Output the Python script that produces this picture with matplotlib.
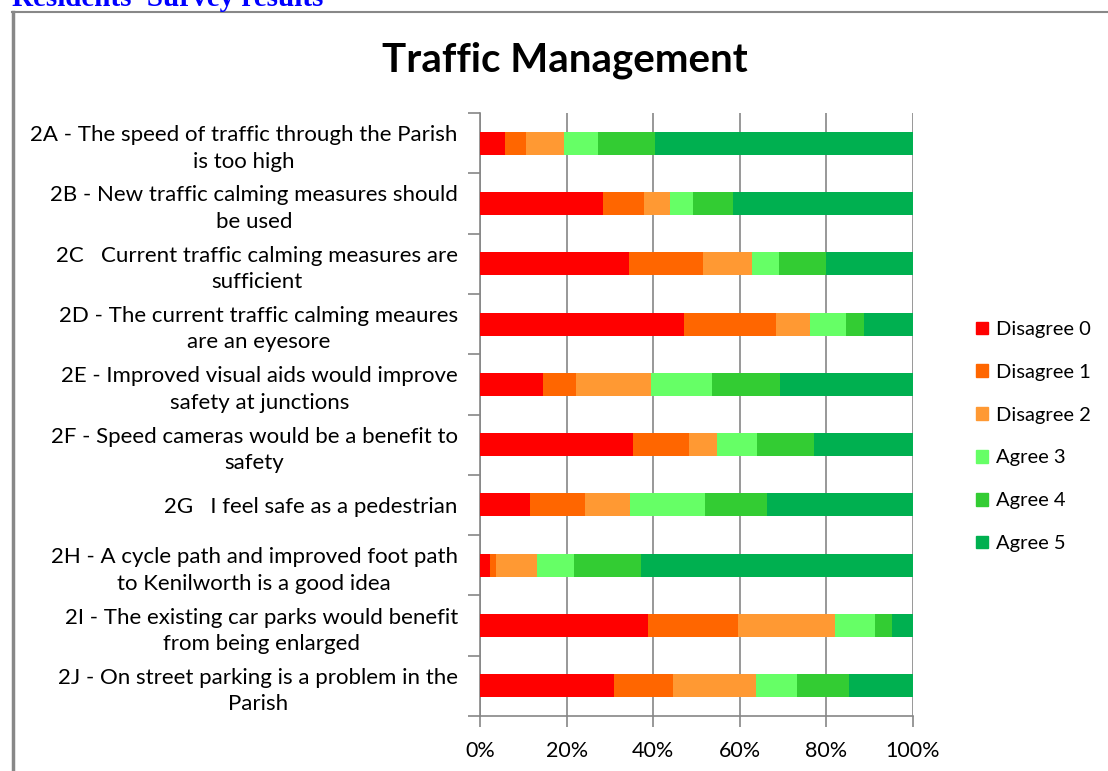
import numpy as np
import matplotlib.pyplot as plt
from matplotlib.patches import Rectangle
from matplotlib.lines import Line2D

questions = [
    "2A - The speed of traffic through the Parish\nis too high",
    "2B - New traffic calming measures should\nbe used",
    "2C   Current traffic calming measures are\nsufficient",
    "2D - The current traffic calming meaures\nare an eyesore",
    "2E - Improved visual aids would improve\nsafety at junctions",
    "2F - Speed cameras would be a benefit to\nsafety",
    "2G   I feel safe as a pedestrian",
    "2H - A cycle path and improved foot path\nto Kenilworth is a good idea",
    "2I - The existing car parks would benefit\nfrom being enlarged",
    "2J - On street parking is a problem in the\nParish",
]

series_names = ["Disagree 0", "Disagree 1", "Disagree 2", "Agree 3", "Agree 4", "Agree 5"]
colors = ["#FF0000", "#FF6600", "#FF9933", "#66FF66", "#33CC33", "#00B050"]

# percentages per question, one list per response level
disagree0 = [5.8, 28.4, 34.4, 47.1, 14.6, 35.4, 11.6, 2.2, 38.8, 31.0]
disagree1 = [4.8, 9.5, 17.1, 21.2, 7.6, 12.9, 12.7, 1.6, 20.8, 13.6]
disagree2 = [8.8, 5.9, 11.3, 7.9, 17.3, 6.4, 10.4, 9.4, 22.3, 19.1]
agree3 = [7.8, 5.4, 6.2, 8.3, 14.1, 9.2, 17.3, 8.6, 9.3, 9.5]
agree4 = [13.1, 9.2, 10.9, 4.1, 15.7, 13.2, 14.3, 15.4, 3.9, 12.0]
agree5 = [59.6, 41.6, 20.1, 11.4, 30.7, 22.9, 33.7, 62.8, 4.9, 14.8]

data = np.array([disagree0, disagree1, disagree2, agree3, agree4, agree5])
data = data / data.sum(axis=0) * 100

plt.rcParams['font.family'] = ['Lato', 'DejaVu Sans']

W, H = 1108, 771
fig = plt.figure(figsize=(W / 100, H / 100), dpi=100)

# outer chart border (only left and top visible in the crop)
fig.add_artist(Line2D([12.5 / W, 12.5 / W], [0, 1 - 12 / H], color="#888888", lw=2.5,
                      transform=fig.transFigure))
fig.add_artist(Line2D([12 / W, 1], [1 - 12 / H, 1 - 12 / H], color="#888888", lw=1.5,
                      transform=fig.transFigure))

# page heading, clipped at the top edge as in the source screenshot
fig.text(12 / W, 1 - 6 / H, "Residents' Survey results", family="Liberation Serif",
         fontweight="bold", fontsize=21, color="#0000FF", va="baseline", ha="left")

fig.text(565 / W, 1 - 60 / H, "Traffic Management", fontsize=29, fontweight="bold",
         ha="center", va="center")

ax = fig.add_axes([480 / W, 55 / H, 433 / W, 603 / H])

y = np.arange(len(questions))
left = np.zeros(len(questions))
for vals, name, col in zip(data, series_names, colors):
    ax.barh(y, vals, left=left, height=0.38, color=col, label=name, zorder=3)
    left += vals

ax.set_xlim(0, 100)
ax.set_ylim(len(questions) - 0.5, -0.5)
ax.set_xticks([0, 20, 40, 60, 80, 100])
ax.set_xticklabels(["0%", "20%", "40%", "60%", "80%", "100%"], fontsize=15.5)
ax.xaxis.grid(True, color="#868686", lw=1.2, zorder=0)

ax.set_yticks(y)
ax.set_yticklabels(questions, fontsize=16, ha="right", multialignment="center",
                   linespacing=1.4)
ax.tick_params(axis="y", length=0, pad=16)
ax.set_yticks(np.arange(-0.5, len(questions)), minor=True)
ax.tick_params(axis="y", which="minor", length=9, color="#868686", width=1.2)
ax.tick_params(axis="x", length=8, color="#868686", width=1.2, pad=10)

for s in ["top", "right"]:
    ax.spines[s].set_visible(False)
for s in ["left", "bottom"]:
    ax.spines[s].set_color("#868686")
    ax.spines[s].set_linewidth(1.2)

handles = [Rectangle((0, 0), 1, 1, color=c) for c in colors]
fig.legend(handles, series_names, loc="upper left", bbox_to_anchor=(958 / W, 1 - 303 / H),
           frameon=False, fontsize=14.5, handlelength=0.6, handleheight=0.6,
           handletextpad=0.4, labelspacing=1.28)

fig.savefig("out.png", dpi=100)
